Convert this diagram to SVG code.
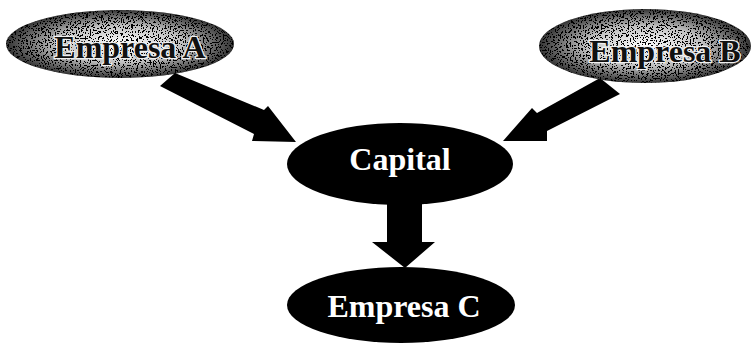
<svg xmlns="http://www.w3.org/2000/svg" width="753" height="344" viewBox="0 0 753 344">
<style>
.lbl{font-family:"Liberation Serif","Times New Roman",serif;font-weight:bold;font-size:32px;text-anchor:middle}
.dark{fill:#fff}
.gray{fill:#111;stroke:#f0f0f0;stroke-width:2.5px;paint-order:stroke}
.node{fill:#000}
.arrow{fill:#000}
</style>
<defs>
<radialGradient id="glow" cx="50%" cy="50%" r="50%">
<stop offset="0" stop-color="#fff" stop-opacity="1"/>
<stop offset="0.55" stop-color="#fff" stop-opacity="0.75"/>
<stop offset="1" stop-color="#fff" stop-opacity="0.2"/>
</radialGradient>
<filter id="speckle" x="0" y="0" width="100%" height="100%">
<feTurbulence type="fractalNoise" baseFrequency="0.6" numOctaves="2" seed="5" result="noise"/>
<feColorMatrix in="noise" type="matrix" values="0 0 0 0 1  0 0 0 0 1  0 0 0 0 1  1.8 0 0 0 -0.35" result="w"/>
<feComponentTransfer in="w" result="wt"><feFuncA type="discrete" tableValues="0 0 1 1 1"/></feComponentTransfer>
<feComposite in="SourceGraphic" in2="wt" operator="in"/>
</filter>
</defs>
<g id="connectors">
<polygon class="arrow" points="175,73 264,110 268,106 296,142 252,141 254,134 160,86"/>
<polygon class="arrow" points="600,78 537,113 532,108 503,141 547,141 547,131 620,94"/>
<polygon class="arrow" points="387,195 422,195 422,242 435,242 405,268 372,242 387,242"/>
</g>
<g id="empresa-a">
<ellipse class="node" cx="120" cy="44" rx="114" ry="34"/>
<ellipse cx="120" cy="44" rx="114" ry="34" fill="url(#glow)" filter="url(#speckle)"/>
<text class="lbl gray" x="130" y="58">Empresa A</text>
</g>
<g id="empresa-b">
<ellipse class="node" cx="645" cy="46" rx="106" ry="37"/>
<ellipse cx="645" cy="46" rx="106" ry="37" fill="url(#glow)" filter="url(#speckle)"/>
<text class="lbl gray" x="665" y="62">Empresa B</text>
</g>
<g id="capital">
<ellipse class="node" cx="400" cy="164" rx="113" ry="41"/>
<text class="lbl dark" x="400" y="170">Capital</text>
</g>
<g id="empresa-c">
<ellipse class="node" cx="401" cy="305" rx="114" ry="38"/>
<text class="lbl dark" x="404" y="317">Empresa C</text>
</g>
</svg>
